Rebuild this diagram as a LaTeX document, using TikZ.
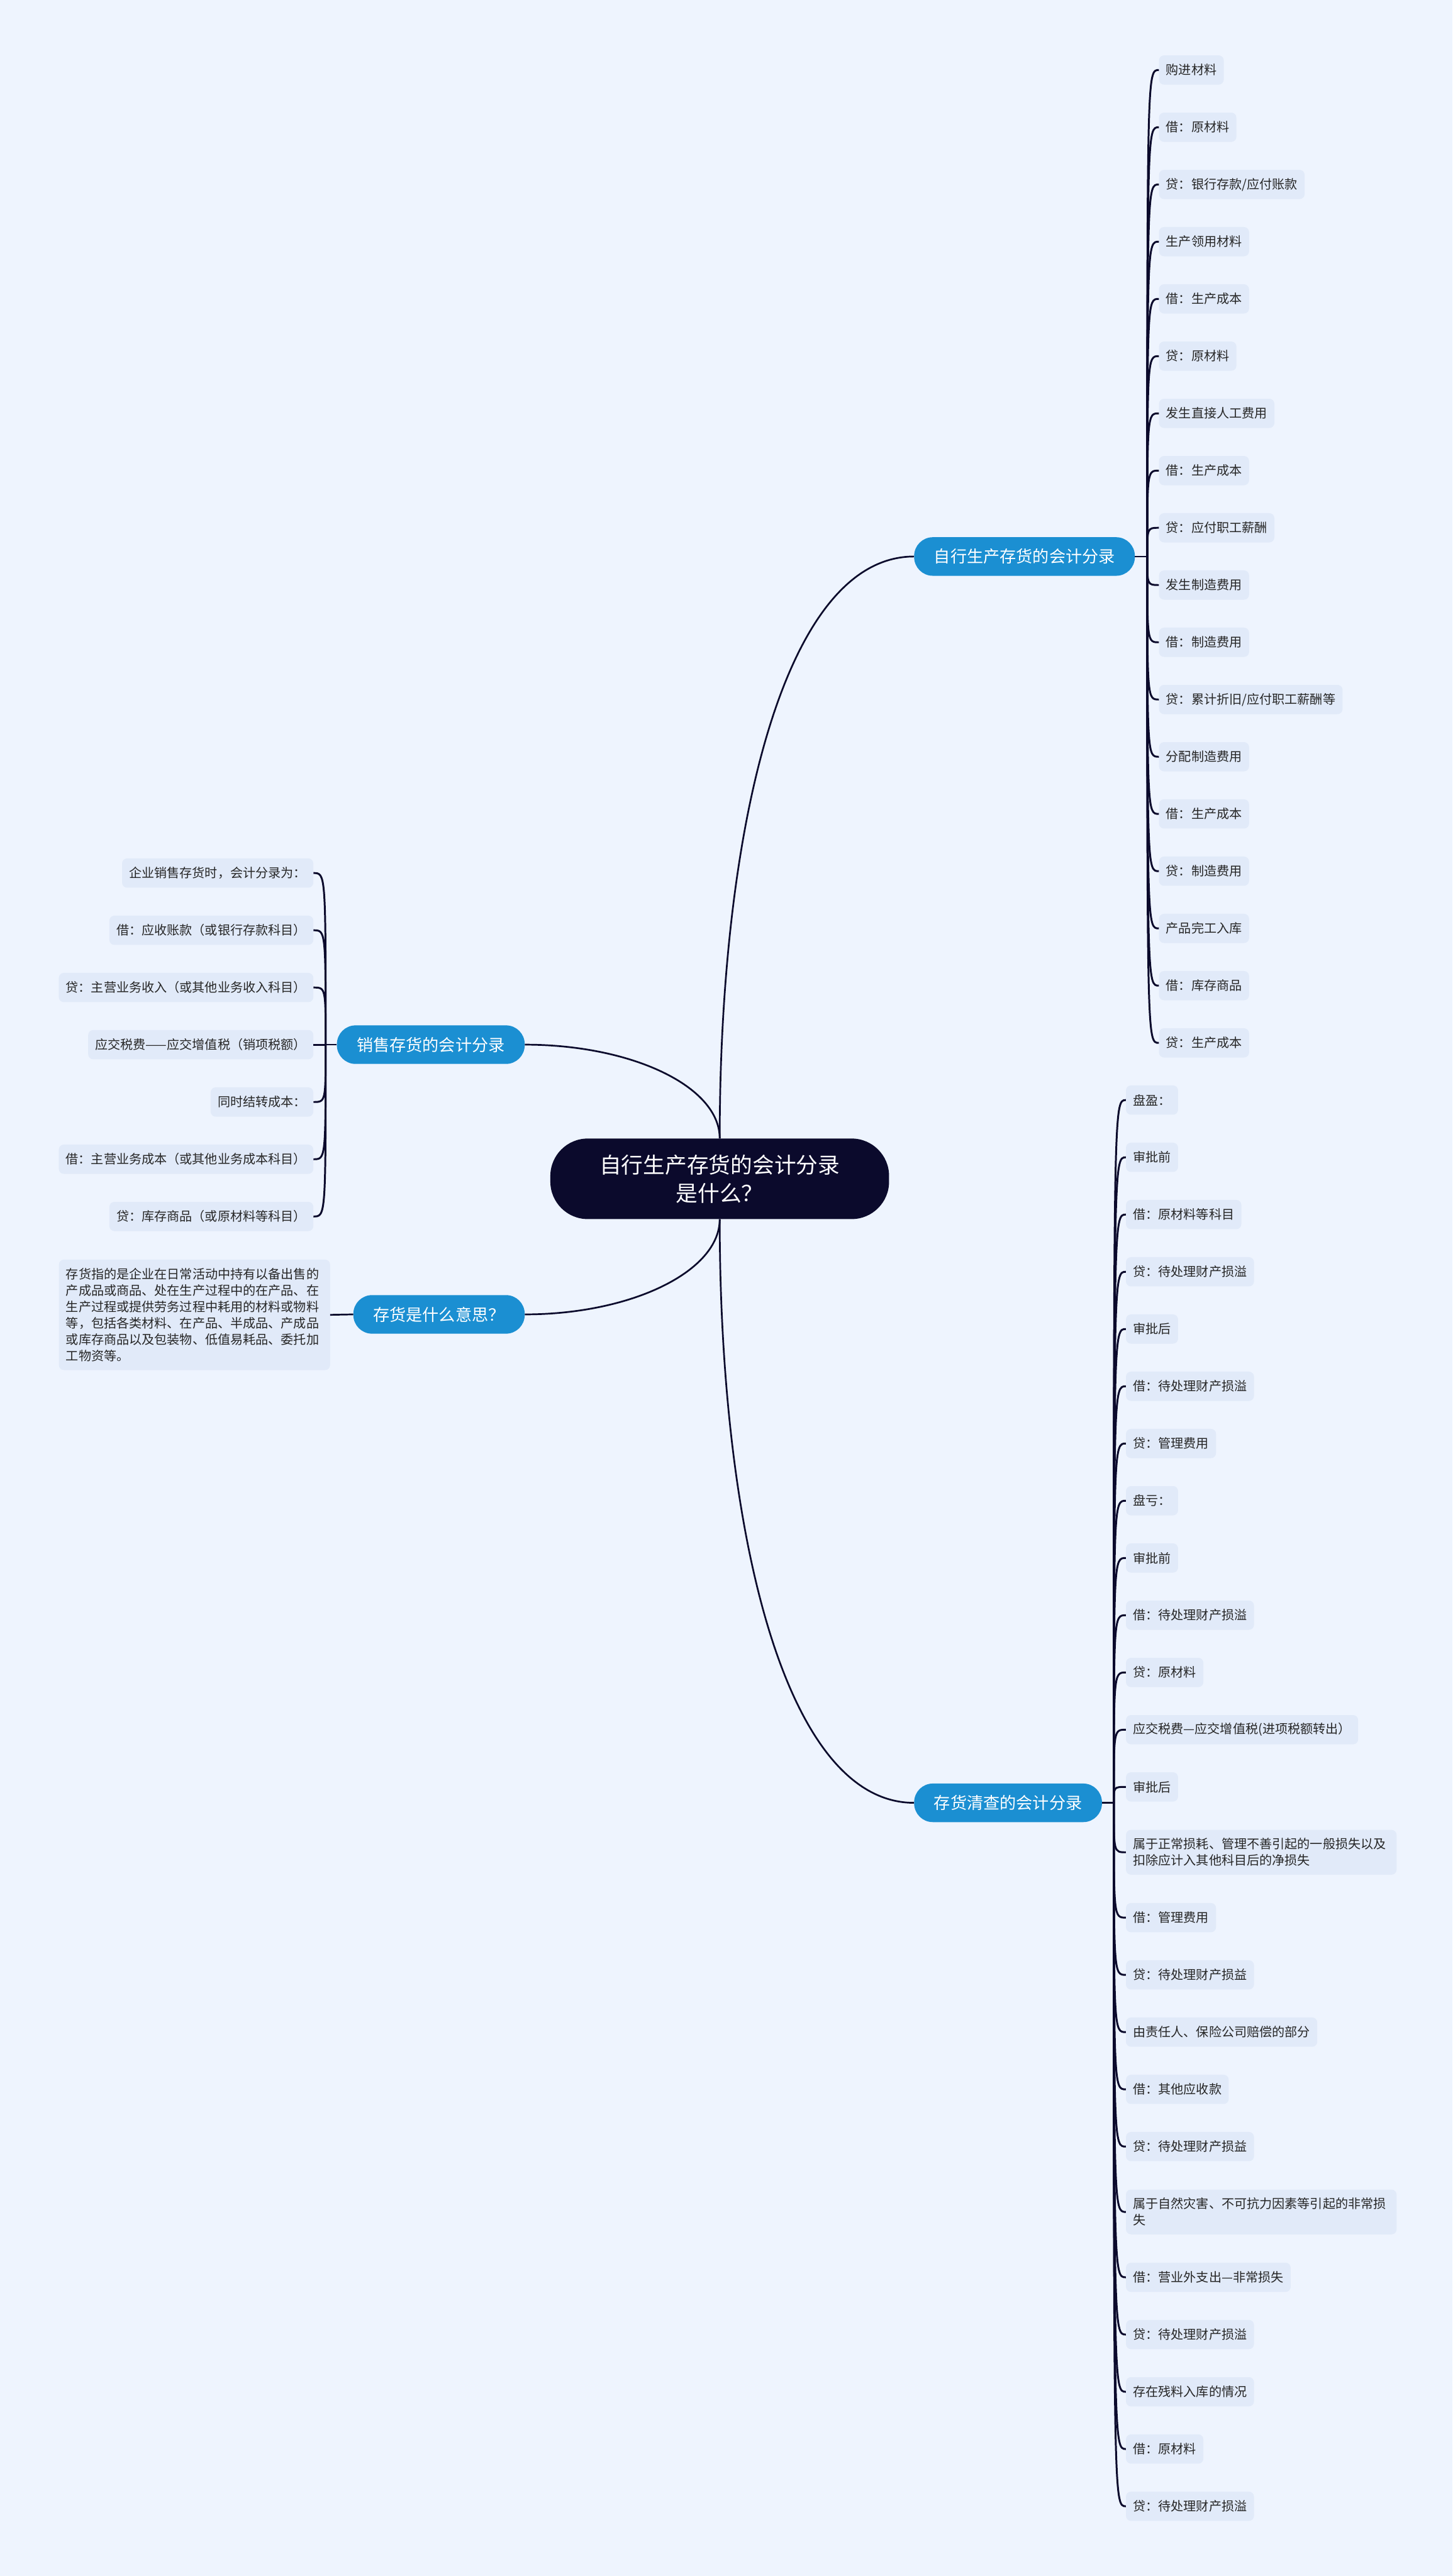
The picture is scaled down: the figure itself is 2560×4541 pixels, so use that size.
\documentclass[tikz,border=0pt]{standalone}
\usepackage{fontspec}
\setmainfont{Noto Sans CJK SC}
\usepackage{xcolor}
\usepackage{tikz}
\usetikzlibrary{positioning,calc}

\definecolor{pagebg}{HTML}{EEF4FE}
\definecolor{leafbg}{HTML}{E1EAF9}
\definecolor{branchblue}{HTML}{1B8FD2}
\definecolor{rootnavy}{HTML}{0B0A2C}

\newcommand{\leaffont}{\fontsize{22.3}{29}\selectfont}
\newcommand{\branchfont}{\fontsize{29}{36}\selectfont}
\newcommand{\rootfont}{\fontsize{38.5}{50}\selectfont}

\begin{document}
\begin{tikzpicture}[
  x=1pt, y=-1pt,
  box/.style={fill=leafbg, rounded corners=9pt, inner xsep=12.5pt, inner ysep=0pt,
    minimum height=51.6pt, font=\leaffont, text=black!85},
  leaf/.style={box, anchor=west},
  leafl/.style={box, anchor=east},
  longleaf/.style={leaf, align=left, text width=452pt, minimum height=79pt},
  branch/.style={fill=branchblue, text=white, rounded corners=33pt,
    minimum height=68pt, inner xsep=35pt, font=\branchfont},
  root/.style={fill=rootnavy, text=white, rounded corners=66pt, align=center,
    minimum width=597pt, minimum height=142pt, font=\rootfont},
  link/.style={draw=rootnavy, line width=3pt},
  twig/.style={draw=rootnavy, line width=3.3pt}
]

\useasboundingbox (0,0) rectangle (2560,4541);
\fill[pagebg] (0,0) rectangle (2560,4541);

% Central topic
\node[root] (root) at (1268.5,2078) {自行生产存货的会计分录\\是什么？};

% Main branches
\node[branch, anchor=west] (bA) at (1611,981) {自行生产存货的会计分录};
\node[branch, anchor=east] (bB) at (925,1841.5) {销售存货的会计分录};
\node[branch, anchor=east] (bC) at (925,2317) {存货是什么意思？};
\node[branch, anchor=west] (bD) at (1611,3178) {存货清查的会计分录};

\draw[link] (root.north) .. controls ($(root.north)+(0,-540)$) and ($(bA.west)+(-231,0)$) .. (bA.west);
\draw[link] (root.north) .. controls ($(root.north)+(0,-92)$) and ($(bB.east)+(188,0)$) .. (bB.east);
\draw[link] (root.south) .. controls ($(root.south)+(0,92)$) and ($(bC.east)+(188,0)$) .. (bC.east);
\draw[link] (root.south) .. controls ($(root.south)+(0,540)$) and ($(bD.west)+(-231,0)$) .. (bD.west);

\coordinate (hA) at (2022,981);
\coordinate (hB) at (574,1841.5);
\coordinate (hD) at (1963,3178);
\draw[link] (bA.east) -- (hA);
\draw[link] (bB.west) -- (hB);
\draw[link] (bD.east) -- (hD);

% Leaves of branch A
\node[leaf] (a1) at (2042.5,123.4) {购进材料};
\node[leaf] (a2) at (2042.5,224.3) {借：原材料};
\node[leaf] (a3) at (2042.5,325.2) {贷：银行存款/应付账款};
\node[leaf] (a4) at (2042.5,426.0) {生产领用材料};
\node[leaf] (a5) at (2042.5,526.9) {借：生产成本};
\node[leaf] (a6) at (2042.5,627.8) {贷：原材料};
\node[leaf] (a7) at (2042.5,728.7) {发生直接人工费用};
\node[leaf] (a8) at (2042.5,829.6) {借：生产成本};
\node[leaf] (a9) at (2042.5,930.4) {贷：应付职工薪酬};
\node[leaf] (a10) at (2042.5,1031.3) {发生制造费用};
\node[leaf] (a11) at (2042.5,1132.2) {借：制造费用};
\node[leaf] (a12) at (2042.5,1233.1) {贷：累计折旧/应付职工薪酬等};
\node[leaf] (a13) at (2042.5,1334.0) {分配制造费用};
\node[leaf] (a14) at (2042.5,1434.8) {借：生产成本};
\node[leaf] (a15) at (2042.5,1535.7) {贷：制造费用};
\node[leaf] (a16) at (2042.5,1636.6) {产品完工入库};
\node[leaf] (a17) at (2042.5,1737.5) {借：库存商品};
\node[leaf] (a18) at (2042.5,1838.4) {贷：生产成本};

\draw[twig] (hA) .. controls (hA |- a1) .. (a1.west);
\draw[twig] (hA) .. controls (hA |- a2) .. (a2.west);
\draw[twig] (hA) .. controls (hA |- a3) .. (a3.west);
\draw[twig] (hA) .. controls (hA |- a4) .. (a4.west);
\draw[twig] (hA) .. controls (hA |- a5) .. (a5.west);
\draw[twig] (hA) .. controls (hA |- a6) .. (a6.west);
\draw[twig] (hA) .. controls (hA |- a7) .. (a7.west);
\draw[twig] (hA) .. controls (hA |- a8) .. (a8.west);
\draw[twig] (hA) .. controls (hA |- a9) .. (a9.west);
\draw[twig] (hA) .. controls (hA |- a10) .. (a10.west);
\draw[twig] (hA) .. controls (hA |- a11) .. (a11.west);
\draw[twig] (hA) .. controls (hA |- a12) .. (a12.west);
\draw[twig] (hA) .. controls (hA |- a13) .. (a13.west);
\draw[twig] (hA) .. controls (hA |- a14) .. (a14.west);
\draw[twig] (hA) .. controls (hA |- a15) .. (a15.west);
\draw[twig] (hA) .. controls (hA |- a16) .. (a16.west);
\draw[twig] (hA) .. controls (hA |- a17) .. (a17.west);
\draw[twig] (hA) .. controls (hA |- a18) .. (a18.west);

% Leaves of branch B
\node[leafl] (s1) at (552.5,1539.0) {企业销售存货时，会计分录为：};
\node[leafl] (s2) at (552.5,1639.9) {借：应收账款（或银行存款科目）};
\node[leafl] (s3) at (552.5,1740.8) {贷：主营业务收入（或其他业务收入科目）};
\node[leafl] (s4) at (552.5,1841.5) {应交税费——应交增值税（销项税额）};
\node[leafl] (s5) at (552.5,1942.6) {同时结转成本：};
\node[leafl] (s6) at (552.5,2043.5) {借：主营业务成本（或其他业务成本科目）};
\node[leafl] (s7) at (552.5,2144.4) {贷：库存商品（或原材料等科目）};

\draw[twig] (hB) .. controls (hB |- s1) .. (s1.east);
\draw[twig] (hB) .. controls (hB |- s2) .. (s2.east);
\draw[twig] (hB) .. controls (hB |- s3) .. (s3.east);
\draw[twig] (hB) -- (s4.east);
\draw[twig] (hB) .. controls (hB |- s5) .. (s5.east);
\draw[twig] (hB) .. controls (hB |- s6) .. (s6.east);
\draw[twig] (hB) .. controls (hB |- s7) .. (s7.east);

% Leaf of branch C
\node[box, anchor=east, align=left, text width=453pt, inner ysep=14.5pt] (c1) at (582,2317.8)
  {存货指的是企业在日常活动中持有以备出售的\\产成品或商品、处在生产过程中的在产品、在\\生产过程或提供劳务过程中耗用的材料或物料\\等，包括各类材料、在产品、半成品、产成品\\或库存商品以及包装物、低值易耗品、委托加\\工物资等。};
\draw[link] (c1.east) -- (bC.west);

% Leaves of branch D
\node[leaf] (d1) at (1984.3,1939.2) {盘盈：};
\node[leaf] (d2) at (1984.3,2040.1) {审批前};
\node[leaf] (d3) at (1984.3,2141.0) {借：原材料等科目};
\node[leaf] (d4) at (1984.3,2241.9) {贷：待处理财产损溢};
\node[leaf] (d5) at (1984.3,2342.8) {审批后};
\node[leaf] (d6) at (1984.3,2443.7) {借：待处理财产损溢};
\node[leaf] (d7) at (1984.3,2544.6) {贷：管理费用};
\node[leaf] (d8) at (1984.3,2645.5) {盘亏：};
\node[leaf] (d9) at (1984.3,2746.4) {审批前};
\node[leaf] (d10) at (1984.3,2847.3) {借：待处理财产损溢};
\node[leaf] (d11) at (1984.3,2948.2) {贷：原材料};
\node[leaf] (d12) at (1984.3,3049.1) {应交税费—应交增值税(进项税额转出）};
\node[leaf] (d13) at (1984.3,3150.0) {审批后};
\node[longleaf] (d14) at (1984.3,3265.2) {属于正常损耗、管理不善引起的一般损失以及\\扣除应计入其他科目后的净损失};
\node[leaf] (d15) at (1984.3,3380.4) {借：管理费用};
\node[leaf] (d16) at (1984.3,3481.3) {贷：待处理财产损益};
\node[leaf] (d17) at (1984.3,3582.2) {由责任人、保险公司赔偿的部分};
\node[leaf] (d18) at (1984.3,3683.1) {借：其他应收款};
\node[leaf] (d19) at (1984.3,3784.0) {贷：待处理财产损益};
\node[longleaf] (d20) at (1984.3,3899.2) {属于自然灾害、不可抗力因素等引起的非常损\\失};
\node[leaf] (d21) at (1984.3,4014.4) {借：营业外支出—非常损失};
\node[leaf] (d22) at (1984.3,4115.3) {贷：待处理财产损溢};
\node[leaf] (d23) at (1984.3,4216.2) {存在残料入库的情况};
\node[leaf] (d24) at (1984.3,4317.1) {借：原材料};
\node[leaf] (d25) at (1984.3,4418.0) {贷：待处理财产损溢};

\draw[twig] (hD) .. controls (hD |- d1) .. (d1.west);
\draw[twig] (hD) .. controls (hD |- d2) .. (d2.west);
\draw[twig] (hD) .. controls (hD |- d3) .. (d3.west);
\draw[twig] (hD) .. controls (hD |- d4) .. (d4.west);
\draw[twig] (hD) .. controls (hD |- d5) .. (d5.west);
\draw[twig] (hD) .. controls (hD |- d6) .. (d6.west);
\draw[twig] (hD) .. controls (hD |- d7) .. (d7.west);
\draw[twig] (hD) .. controls (hD |- d8) .. (d8.west);
\draw[twig] (hD) .. controls (hD |- d9) .. (d9.west);
\draw[twig] (hD) .. controls (hD |- d10) .. (d10.west);
\draw[twig] (hD) .. controls (hD |- d11) .. (d11.west);
\draw[twig] (hD) .. controls (hD |- d12) .. (d12.west);
\draw[twig] (hD) .. controls (hD |- d13) .. (d13.west);
\draw[twig] (hD) .. controls (hD |- d14) .. (d14.west);
\draw[twig] (hD) .. controls (hD |- d15) .. (d15.west);
\draw[twig] (hD) .. controls (hD |- d16) .. (d16.west);
\draw[twig] (hD) .. controls (hD |- d17) .. (d17.west);
\draw[twig] (hD) .. controls (hD |- d18) .. (d18.west);
\draw[twig] (hD) .. controls (hD |- d19) .. (d19.west);
\draw[twig] (hD) .. controls (hD |- d20) .. (d20.west);
\draw[twig] (hD) .. controls (hD |- d21) .. (d21.west);
\draw[twig] (hD) .. controls (hD |- d22) .. (d22.west);
\draw[twig] (hD) .. controls (hD |- d23) .. (d23.west);
\draw[twig] (hD) .. controls (hD |- d24) .. (d24.west);
\draw[twig] (hD) .. controls (hD |- d25) .. (d25.west);

\end{tikzpicture}
\end{document}
